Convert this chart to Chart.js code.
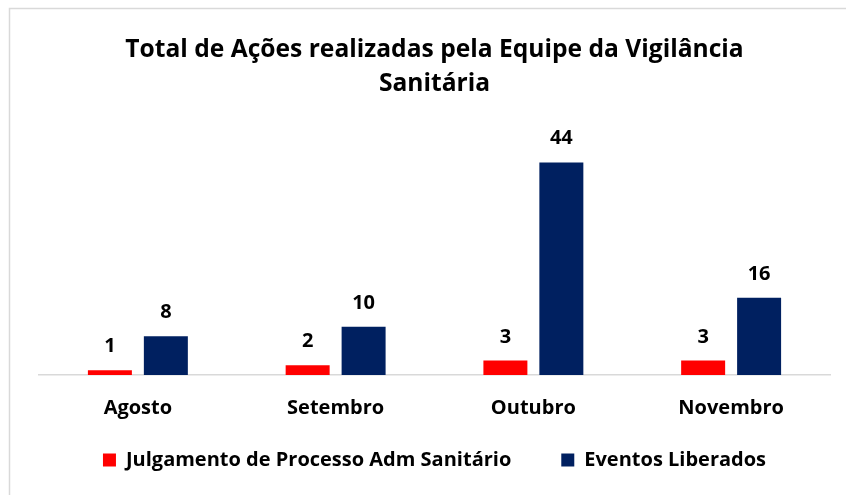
<!DOCTYPE html>
<html>
<head>
<meta charset="utf-8">
<script src="https://cdn.jsdelivr.net/npm/chart.js@4"></script>
<style>
  html, body { margin: 0; padding: 0; background: #fff; }
  #wrap { width: 846px; height: 495px; }
</style>
</head>
<body>
<div id="wrap"><canvas id="acoes-chart" width="846" height="495"></canvas></div>
<script>
var meses = ['Agosto', 'Setembro', 'Outubro', 'Novembro'];
var julgamento = [1, 2, 3, 3];
var eventos = [8, 10, 44, 16];
var titulo = ['Total de Ações realizadas pela Equipe da Vigilância', 'Sanitária'];

var fonte = '"Open Sans", Lato, sans-serif';

// rotulos de valor acima das barras
var rotulos = {
    id: 'rotulos',
    afterDatasetsDraw: function (chart) {
        var ctx = chart.ctx;
        ctx.save();
        ctx.font = 'bold 20px ' + fonte;
        ctx.fillStyle = '#000';
        ctx.textAlign = 'center';
        ctx.textBaseline = 'alphabetic';
        chart.data.datasets.forEach(function (ds, i) {
            chart.getDatasetMeta(i).data.forEach(function (bar, j) {
                ctx.fillText(ds.data[j], bar.x, bar.y - 18);
            });
        });
        ctx.restore();
    }
};

// moldura cinza do grafico
var moldura = {
    id: 'moldura',
    beforeDraw: function (chart) {
        var ctx = chart.ctx;
        ctx.save();
        ctx.strokeStyle = '#d9d9d9';
        ctx.lineWidth = 1.5;
        ctx.beginPath();
        ctx.moveTo(9.5, chart.height);
        ctx.lineTo(9.5, 8.5);
        ctx.lineTo(chart.width, 8.5);
        ctx.stroke();
        ctx.restore();
    },
    // o eixo x fica baixo para a legenda subir; evita cortar os nomes dos meses
    afterLayout: function (chart) {
        var x = chart.scales.x;
        x.bottom = x.top + 60;
    }
};

var ctx = document.getElementById('acoes-chart').getContext('2d');
new Chart(ctx, {
    type: 'bar',
    data: {
        labels: meses,
        datasets: [
            {
                label: 'Julgamento de Processo Adm Sanitário',
                backgroundColor: '#ff0000',
                data: julgamento
            },
            {
                label: 'Eventos Liberados',
                backgroundColor: '#002060',
                data: eventos
            }
        ]
    },
    options: {
        responsive: false,
        animation: false,
        layout: { padding: { left: 39, right: 16, top: 0, bottom: 15 } },
        categoryPercentage: 0.566,
        barPercentage: 0.786,
        plugins: {
            title: {
                display: true,
                text: titulo,
                color: '#000',
                font: { family: fonte, size: 24.6, weight: 'bold', lineHeight: 1.37 },
                padding: { top: 33, bottom: 33 }
            },
            legend: {
                position: 'bottom',
                labels: {
                    color: '#000',
                    font: { family: fonte, size: 20, weight: 'bold' },
                    boxWidth: 13,
                    boxHeight: 13,
                    padding: 50
                }
            },
            tooltip: { enabled: false }
        },
        scales: {
            x: {
                grid: { display: false, drawTicks: false },
                border: { display: true, color: '#d9d9d9', width: 1.5 },
                ticks: {
                    color: '#000',
                    padding: 21,
                    font: { family: fonte, size: 20, weight: 'bold' }
                },
                afterFit: function (scale) { scale.height = 25; }
            },
            y: {
                display: false,
                min: 0,
                max: 50
            }
        }
    },
    plugins: [rotulos, moldura]
});
</script>
</body>
</html>
